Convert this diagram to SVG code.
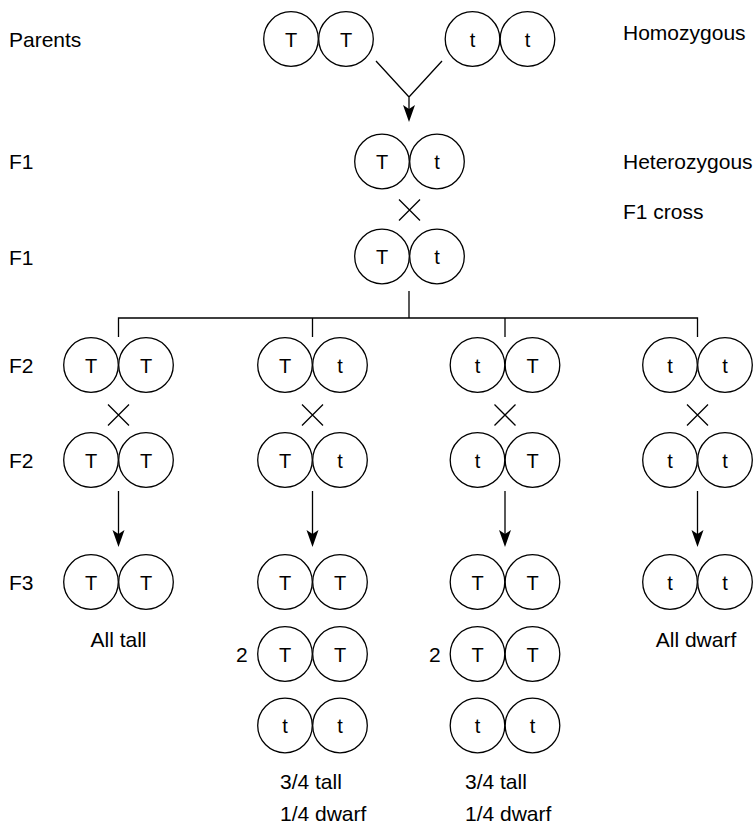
<svg xmlns="http://www.w3.org/2000/svg" xmlns:xlink="http://www.w3.org/1999/xlink" width="756" height="826" viewBox="0 0 756 826">
  <style>
    .c { fill: #fff; stroke: #000; stroke-width: 1.3; }
    .al { font-family: "Liberation Sans", Arial, sans-serif; font-size: 20px; fill: #000; text-anchor: middle; }
    .lb { font-family: "Liberation Sans", Arial, sans-serif; font-size: 21px; fill: #000; }
    .ln { stroke: #000; stroke-width: 1.3; fill: none; }
    .hd { fill: #000; stroke: none; }
  </style>
  <defs>
    <!-- a single allele circle centred on the origin -->
    <circle id="allele" class="c" r="27.3"/>
    <!-- cross mark -->
    <path id="cross" class="ln" d="M-10.5,-10.5 L10.5,10.5 M10.5,-10.5 L-10.5,10.5"/>
    <!-- downward arrowhead, tip at origin -->
    <path id="head" class="hd" d="M0,0 L-6,-17 L0,-13 L6,-17 Z"/>
  </defs>

  <!-- row labels -->
  <g id="labels-left">
    <text class="lb" x="9" y="46.5">Parents</text>
    <text class="lb" x="9" y="169">F1</text>
    <text class="lb" x="9" y="264.5">F1</text>
    <text class="lb" x="9" y="373">F2</text>
    <text class="lb" x="9" y="468">F2</text>
    <text class="lb" x="9" y="589.5">F3</text>
  </g>
  <g id="labels-right">
    <text class="lb" x="623" y="39.5">Homozygous</text>
    <text class="lb" x="623" y="169">Heterozygous</text>
    <text class="lb" x="623" y="218.5">F1 cross</text>
  </g>

  <!-- connectors -->
  <g id="connectors">
    <path class="ln" d="M376,61 L409,97 L442,61 M409,97 L409,110"/>
    <use xlink:href="#head" x="409" y="122"/>
    <use xlink:href="#cross" x="409.5" y="210"/>
    <path class="ln" d="M409,291 L409,318 M118.5,337 L118.5,318 L697.5,318 L697.5,337 M312.5,318 L312.5,337 M505,318 L505,337"/>
    <use xlink:href="#cross" x="118.5" y="415"/>
    <use xlink:href="#cross" x="312.5" y="415"/>
    <use xlink:href="#cross" x="505" y="415"/>
    <use xlink:href="#cross" x="697.5" y="415"/>
    <path class="ln" d="M118.5,491 L118.5,535 M312.5,491 L312.5,535 M505,491 L505,535 M697.5,491 L697.5,535"/>
    <use xlink:href="#head" x="118.5" y="547"/>
    <use xlink:href="#head" x="312.5" y="547"/>
    <use xlink:href="#head" x="505" y="547"/>
    <use xlink:href="#head" x="697.5" y="547"/>
  </g>

  <!-- parents -->
  <g id="parent-TT">
    <use xlink:href="#allele" x="291" y="39"/><use xlink:href="#allele" x="346" y="39"/>
    <text class="al" x="291" y="46.5">T</text><text class="al" x="346" y="46.5">T</text>
  </g>
  <g id="parent-tt">
    <use xlink:href="#allele" x="472.5" y="39"/><use xlink:href="#allele" x="527.5" y="39"/>
    <text class="al" x="472.5" y="46.5">t</text><text class="al" x="527.5" y="46.5">t</text>
  </g>

  <!-- F1 -->
  <g id="f1-a">
    <use xlink:href="#allele" x="382" y="161.5"/><use xlink:href="#allele" x="437" y="161.5"/>
    <text class="al" x="382" y="169">T</text><text class="al" x="437" y="169">t</text>
  </g>
  <g id="f1-b">
    <use xlink:href="#allele" x="382" y="256.5"/><use xlink:href="#allele" x="437" y="256.5"/>
    <text class="al" x="382" y="264">T</text><text class="al" x="437" y="264">t</text>
  </g>

  <!-- F2 first row -->
  <g id="f2-1a">
    <use xlink:href="#allele" x="91" y="365"/><use xlink:href="#allele" x="146" y="365"/>
    <text class="al" x="91" y="372.5">T</text><text class="al" x="146" y="372.5">T</text>
  </g>
  <g id="f2-2a">
    <use xlink:href="#allele" x="285" y="365"/><use xlink:href="#allele" x="340" y="365"/>
    <text class="al" x="285" y="372.5">T</text><text class="al" x="340" y="372.5">t</text>
  </g>
  <g id="f2-3a">
    <use xlink:href="#allele" x="477.5" y="365"/><use xlink:href="#allele" x="532.5" y="365"/>
    <text class="al" x="477.5" y="372.5">t</text><text class="al" x="532.5" y="372.5">T</text>
  </g>
  <g id="f2-4a">
    <use xlink:href="#allele" x="670" y="365"/><use xlink:href="#allele" x="725" y="365"/>
    <text class="al" x="670" y="372.5">t</text><text class="al" x="725" y="372.5">t</text>
  </g>

  <!-- F2 second row -->
  <g id="f2-1b">
    <use xlink:href="#allele" x="91" y="460"/><use xlink:href="#allele" x="146" y="460"/>
    <text class="al" x="91" y="467.5">T</text><text class="al" x="146" y="467.5">T</text>
  </g>
  <g id="f2-2b">
    <use xlink:href="#allele" x="285" y="460"/><use xlink:href="#allele" x="340" y="460"/>
    <text class="al" x="285" y="467.5">T</text><text class="al" x="340" y="467.5">t</text>
  </g>
  <g id="f2-3b">
    <use xlink:href="#allele" x="477.5" y="460"/><use xlink:href="#allele" x="532.5" y="460"/>
    <text class="al" x="477.5" y="467.5">t</text><text class="al" x="532.5" y="467.5">T</text>
  </g>
  <g id="f2-4b">
    <use xlink:href="#allele" x="670" y="460"/><use xlink:href="#allele" x="725" y="460"/>
    <text class="al" x="670" y="467.5">t</text><text class="al" x="725" y="467.5">t</text>
  </g>

  <!-- F3 offspring -->
  <g id="f3-1">
    <use xlink:href="#allele" x="91" y="582"/><use xlink:href="#allele" x="146" y="582"/>
    <text class="al" x="91" y="589.5">T</text><text class="al" x="146" y="589.5">T</text>
    <text class="lb" x="118.5" y="647" text-anchor="middle">All tall</text>
  </g>
  <g id="f3-2">
    <use xlink:href="#allele" x="285" y="582"/><use xlink:href="#allele" x="340" y="582"/>
    <text class="al" x="285" y="589.5">T</text><text class="al" x="340" y="589.5">T</text>
    <use xlink:href="#allele" x="285" y="654"/><use xlink:href="#allele" x="340" y="654"/>
    <text class="al" x="285" y="661.5">T</text><text class="al" x="340" y="661.5">T</text>
    <text class="lb" x="236" y="661.5">2</text>
    <use xlink:href="#allele" x="285" y="725.5"/><use xlink:href="#allele" x="340" y="725.5"/>
    <text class="al" x="285" y="733">t</text><text class="al" x="340" y="733">t</text>
    <text class="lb" x="280" y="788.5">3/4 tall</text>
    <text class="lb" x="280" y="821">1/4 dwarf</text>
  </g>
  <g id="f3-3">
    <use xlink:href="#allele" x="477.5" y="582"/><use xlink:href="#allele" x="532.5" y="582"/>
    <text class="al" x="477.5" y="589.5">T</text><text class="al" x="532.5" y="589.5">T</text>
    <use xlink:href="#allele" x="477.5" y="654"/><use xlink:href="#allele" x="532.5" y="654"/>
    <text class="al" x="477.5" y="661.5">T</text><text class="al" x="532.5" y="661.5">T</text>
    <text class="lb" x="429" y="661.5">2</text>
    <use xlink:href="#allele" x="477.5" y="725.5"/><use xlink:href="#allele" x="532.5" y="725.5"/>
    <text class="al" x="477.5" y="733">t</text><text class="al" x="532.5" y="733">t</text>
    <text class="lb" x="465" y="788.5">3/4 tall</text>
    <text class="lb" x="465" y="821">1/4 dwarf</text>
  </g>
  <g id="f3-4">
    <use xlink:href="#allele" x="670" y="582"/><use xlink:href="#allele" x="725" y="582"/>
    <text class="al" x="670" y="589.5">t</text><text class="al" x="725" y="589.5">t</text>
    <text class="lb" x="696" y="647" text-anchor="middle">All dwarf</text>
  </g>
</svg>
